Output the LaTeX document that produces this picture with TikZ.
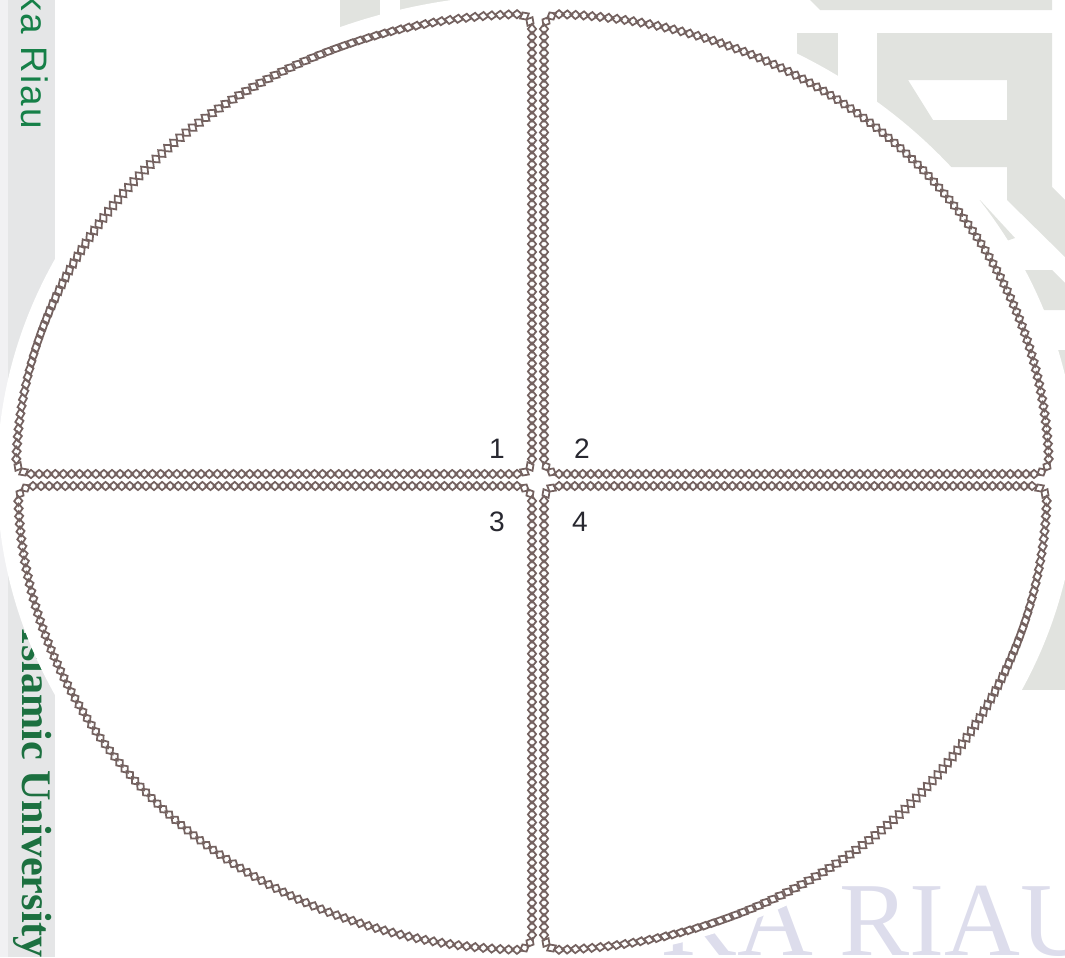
\documentclass[tikz,border=0pt]{standalone}
\usepackage{fontspec}
\setmainfont{Liberation Serif}
\setsansfont{Liberation Sans}
\newfontfamily\spacedsans[LetterSpace=6]{Liberation Sans}
\usepackage{tikz}
\definecolor{chain}{RGB}{116,98,96}
\definecolor{wmgray}{RGB}{225,227,223}
\definecolor{strip}{RGB}{229,230,231}
\definecolor{stripedge}{RGB}{241,241,243}
\definecolor{uingreen}{RGB}{22,128,72}
\definecolor{uindark}{RGB}{28,112,64}
\definecolor{lavender}{RGB}{221,221,236}
\definecolor{numtext}{RGB}{40,40,48}
\tikzset{
  % rantai berlian
  gemline/.style={draw=chain, line width=0.5pt},
  gem/.pic={\draw[gemline] (-0.05,0) -- (0,0.041) -- (0.05,0) -- (0,-0.041) -- cycle;},
  qnum/.style={font=\sffamily\fontsize{8}{9}\selectfont, text=numtext, inner sep=0pt},
  % watermark
  wmside/.style={rotate=-90, anchor=base west, inner sep=0pt},
  wmblock/.style={fill=wmgray}
}

\begin{document}
\begin{tikzpicture}
    \path[use as bounding box, clip] (0,0) rectangle (10.65,9.57);

    \fill[stripedge] (0,0) rectangle (0.08,9.57);
    \fill[strip] (0.08,0) rectangle (0.55,9.57);
    \fill[wmblock] (3.40,9.57) rectangle (3.80,8.90);
    \fill[wmblock] (4.00,9.57) rectangle (5.30,9.30);
    \fill[wmblock] (8.10,9.57) -- (10.52,9.57) -- (10.52,9.47) -- (8.20,9.47) -- cycle;
    \fill[wmblock] (7.97,9.24) rectangle (8.38,8.60);
    \fill[wmblock, even odd rule] (8.77,9.24) -- (10.52,9.24) -- (10.52,7.70) -- (10.65,7.57) -- (10.65,7.00)
      -- (10.07,7.57) -- (10.07,7.90) -- (8.77,7.90) -- cycle
      (9.08,8.77) -- (10.07,8.77) -- (10.07,8.37) -- (9.33,8.37) -- cycle;
    \fill[wmblock] (9.65,7.57) -- (9.80,7.57) -- (10.15,7.19) -- (9.95,7.12) -- (9.50,7.37) -- cycle;
    \fill[wmblock] (10.17,6.87) -- (10.52,6.87) -- (10.65,6.74) -- (10.65,6.47) -- (10.33,6.47) -- cycle;
    \fill[wmblock] (10.15,6.07) rectangle (10.65,2.67);

    \node[wmside, font=\spacedsans\fontsize{10.5}{12}\selectfont, text=uingreen] (wmtop) at (0.22,9.65) {ka Riau};
    \node[wmside, font=\bfseries\fontsize{12}{14}\selectfont, text=uindark] (wmleft) at (0.23,3.29) {Islamic University};
    \node[anchor=base west, inner sep=0pt, font=\fontsize{29.9}{32}\selectfont, text=lavender] (wmbottom) at (6.61,0.02) {KA RIAU};

    \fill[white] (5.37,4.80) ellipse [x radius=5.40, y radius=4.83];

    % empat kuadran: sudut dalam, jari-jari elips
    \foreach \sx/\sy/\cx/\cy/\rx/\ry in {-1/1/5.32/4.83/5.16/4.60, 1/1/5.44/4.83/5.05/4.60,
        -1/-1/5.32/4.71/5.14/4.64, 1/-1/5.44/4.71/5.03/4.64}{
      \begin{scope}[shift={(\cx,\cy)}, xscale=\sx, yscale=\sy]
        \foreach \k in {0,...,54} \pic[rotate=90] at (0,{0.15+\k*(\ry-0.3)/54}) {gem};
        \foreach \k in {0,...,60} \pic at ({0.15+\k*(\rx-0.3)/60},0) {gem};
        \foreach \a in {210,240} \pic[rotate=\a+90] at ({0.15+0.15*cos(\a)},{0.15+0.15*sin(\a)}) {gem};
        \foreach \a in {120,150} \pic[rotate=\a+90] at ({0.15+0.15*cos(\a)},{\ry-0.15+0.15*sin(\a)}) {gem};
        \foreach \a in {300,330} \pic[rotate=\a+90] at ({\rx-0.15+0.15*cos(\a)},{0.15+0.15*sin(\a)}) {gem};
        \foreach \k in {0,...,92}{
          \pgfmathsetmacro\tlo{asin(0.15/\ry)}
          \pgfmathsetmacro\thi{acos(0.15/\rx)}
          \pgfmathsetmacro\tq{\tlo+\k*(\thi-\tlo)/92}
          \pgfmathsetmacro\tang{atan2(\ry*cos(\tq),-\rx*sin(\tq))}
          \pic[rotate=\tang] at ({\rx*cos(\tq)},{\ry*sin(\tq)}) {gem};
        }
      \end{scope}
    }

    \node[qnum] (q1) at (4.97,5.08) {1};
    \node[qnum] (q2) at (5.82,5.08) {2};
    \node[qnum] (q3) at (4.97,4.35) {3};
    \node[qnum] (q4) at (5.80,4.35) {4};
\end{tikzpicture}
\end{document}
